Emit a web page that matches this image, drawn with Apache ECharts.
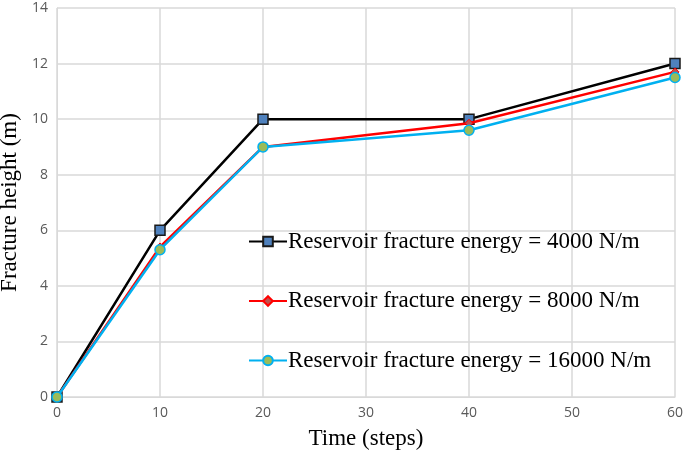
<!DOCTYPE html>
<html><head><meta charset="utf-8">
<script src="https://cdn.jsdelivr.net/npm/echarts@6/dist/echarts.min.js"></script>
<style>html,body{margin:0;padding:0;background:#fff}#c{width:685px;height:453px}</style>
</head><body><div id="c"></div>
<script>
const xSteps = [0, 10, 20, 40, 60];
const e4000 = [0, 6, 10, 10, 12];
const e8000 = [0, 5.4, 9, 9.85, 11.7];
const e16000 = [0, 5.3, 9, 9.6, 11.5];
const names = ['Reservoir fracture energy = 4000 N/m','Reservoir fracture energy = 8000 N/m','Reservoir fracture energy = 16000 N/m'];
const pairs = a => xSteps.map((x,i)=>[x,a[i]]);
const chart = echarts.init(document.getElementById('c'));
const serif = '"Liberation Serif", "Times New Roman", serif';
chart.setOption({
  animation:false,
  grid:{left:57,right:10,top:8,bottom:56,containLabel:false,outerBoundsMode:'none'},
  xAxis:{type:'value',min:0,max:60,interval:10,
    name:'Time (steps)',nameLocation:'middle',nameGap:30,
    nameTextStyle:{fontFamily:serif,fontSize:23,color:'#000'},
    axisLine:{show:true,lineStyle:{color:'#d9d9d9'}},axisTick:{show:false},
    axisLabel:{color:'#595959',fontSize:14,fontFamily:'"Open Sans", sans-serif',margin:9},
    splitLine:{show:true,lineStyle:{color:'#d9d9d9',width:1.5}}},
  yAxis:{type:'value',min:0,max:14,interval:2,
    name:'Fracture height (m)',nameLocation:'middle',nameGap:32,
    nameTextStyle:{fontFamily:serif,fontSize:23,color:'#000'},
    axisLine:{show:true,lineStyle:{color:'#d9d9d9'}},axisTick:{show:false},
    axisLabel:{color:'#595959',fontSize:14,fontFamily:'"Open Sans", sans-serif',margin:9},
    splitLine:{show:true,lineStyle:{color:'#d9d9d9',width:1.5}}},
  legend:{orient:'vertical',left:243,top:225,itemGap:36.5,itemWidth:38,itemHeight:12,
    textStyle:{fontFamily:serif,fontSize:23,color:'#000',padding:[0,0,0,-4]},
    data:names},
  series:[
    {name:names[0],type:'line',data:pairs(e4000),symbol:'rect',symbolSize:10,
      lineStyle:{color:'#000',width:2.5},
      itemStyle:{color:'#4f81bd',borderColor:'#1a1a1a',borderWidth:1.5},z:3},
    {name:names[1],type:'line',data:pairs(e8000),symbol:'diamond',symbolSize:8,
      lineStyle:{color:'#ff0000',width:2.5},
      itemStyle:{color:'#c0504d',borderColor:'#ff0000',borderWidth:1},z:4},
    {name:names[2],type:'line',data:pairs(e16000),symbol:'circle',symbolSize:10,
      lineStyle:{color:'#00b0f0',width:2.5},
      itemStyle:{color:'#9bbb59',borderColor:'#00b0f0',borderWidth:1.5},z:5}
  ]
});
</script></body></html>
